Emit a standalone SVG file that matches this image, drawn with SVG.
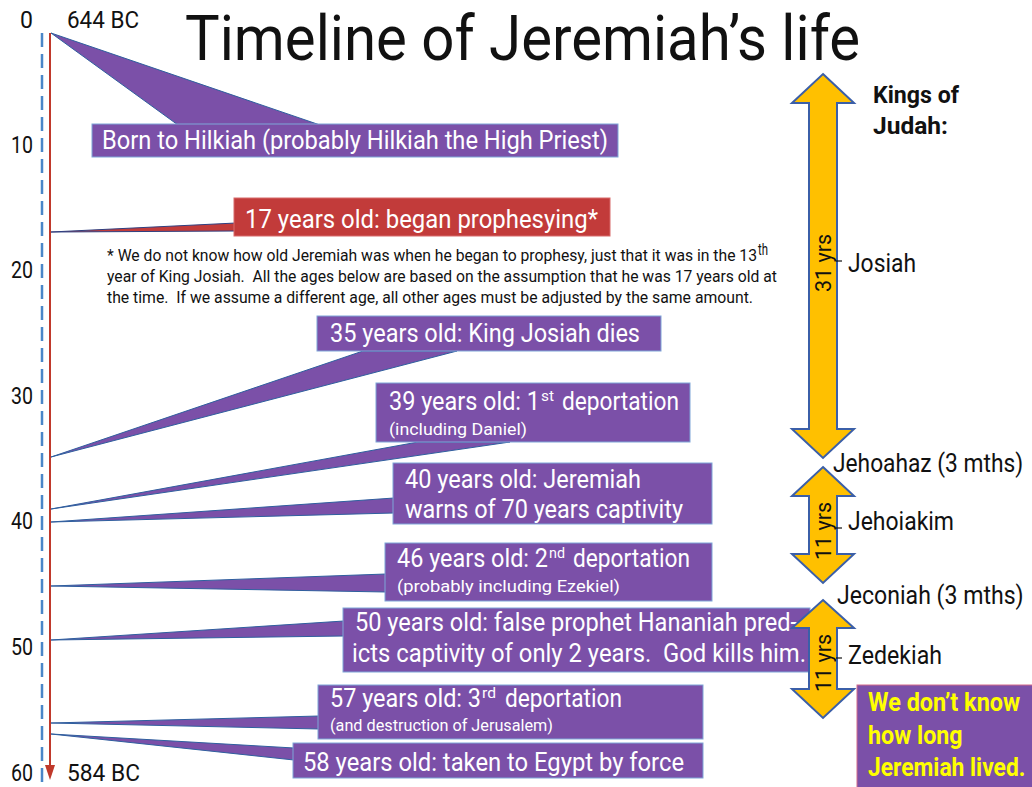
<svg xmlns="http://www.w3.org/2000/svg" width="1032" height="787" viewBox="0 0 1032 787">
<style>
text{font-family:Roboto,"Liberation Sans",sans-serif;white-space:pre}
.ax{font-size:23px;fill:#111}
.axr{text-anchor:end}
.box{fill:#7B50A8;stroke:#7FA6D8;stroke-width:1}
.red{fill:#C23B3A;stroke:#D86A6A;stroke-width:1}
.wedge{fill:#7B50A8;stroke:#2F5F9E;stroke-width:1}
.wedgeR{fill:#C23B3A;stroke:#2F3F80;stroke-width:1}
.t{font-size:25px;fill:#fff}
.s{font-size:16px;fill:#fff}
.sup{font-size:14px;fill:#fff}
.note{font-size:16px;fill:#111}
.arr{fill:#FFC000;stroke:#3B5FA8;stroke-width:2;stroke-linejoin:miter}
.k{font-size:25px;fill:#111}
.yr{font-size:22px;fill:#111;text-anchor:middle}
.tick{stroke:#111;stroke-width:1.2}
.kb{font-size:24px;font-weight:bold;fill:#111}
.yl{font-size:26px;font-weight:bold;fill:#FFFF00}
</style>
<rect width="1032" height="787" fill="#fff"/>

<g id="title">
<text x="185" y="60" font-size="63" fill="#111" textLength="675" lengthAdjust="spacingAndGlyphs">Timeline of Jeremiah’s life</text>
</g>

<g id="axis">
<line x1="42" y1="33" x2="42" y2="787" stroke="#4A86C8" stroke-width="2.5" stroke-dasharray="14 7"/>
<line x1="50" y1="33" x2="50" y2="768" stroke="#C0392B" stroke-width="2"/>
<polygon points="45,765 55,765 50,780" fill="#C0392B"/>
<text class="ax axr" x="33" y="28">0</text>
<text class="ax axr" x="33" y="153" textLength="22" lengthAdjust="spacingAndGlyphs">10</text>
<text class="ax axr" x="33" y="278" textLength="22" lengthAdjust="spacingAndGlyphs">20</text>
<text class="ax axr" x="33" y="404" textLength="22" lengthAdjust="spacingAndGlyphs">30</text>
<text class="ax axr" x="33" y="529" textLength="22" lengthAdjust="spacingAndGlyphs">40</text>
<text class="ax axr" x="33" y="655" textLength="22" lengthAdjust="spacingAndGlyphs">50</text>
<text class="ax axr" x="33" y="781" textLength="22" lengthAdjust="spacingAndGlyphs">60</text>
<text class="ax" x="67" y="28" textLength="72" lengthAdjust="spacingAndGlyphs">644 BC</text>
<text class="ax" x="67" y="781" textLength="73" lengthAdjust="spacingAndGlyphs">584 BC</text>
</g>

<g id="connectors">
<polygon class="wedge" points="51,33 178,125 320,125"/>
<polygon class="wedgeR" points="51,232 236,223 236,231"/>
<polygon class="wedge" points="51,457 363,351 457,351"/>
<polygon class="wedge" points="51,509 418,442 510,442"/>
<polygon class="wedge" points="51,522 394,498 394,513"/>
<polygon class="wedge" points="51,586 386,574 386,592"/>
<polygon class="wedge" points="51,640 344,621 344,636"/>
<polygon class="wedge" points="51,723 319,716 319,729"/>
<polygon class="wedge" points="51,734 294,748 294,760"/>
</g>

<g id="n-born">
<rect class="box" x="92" y="124" width="526" height="33"/>
<text class="t" x="102" y="149" textLength="506" lengthAdjust="spacingAndGlyphs">Born to Hilkiah (probably Hilkiah the High Priest)</text>
</g>

<g id="n-17">
<rect class="red" x="234" y="198" width="376" height="38"/>
<text class="t" x="245" y="228" font-size="26" textLength="353" lengthAdjust="spacingAndGlyphs">17 years old: began prophesying*</text>
</g>

<g id="n-note">
<text class="note" transform="translate(107,261) scale(0.8,1)" textLength="812.5" lengthAdjust="spacingAndGlyphs">* We do not know how old Jeremiah was when he began to prophesy, just that it was in the 13</text>
<text class="note" x="758" y="255" font-size="10" textLength="10" lengthAdjust="spacingAndGlyphs">th</text>
<text class="note" x="107" y="282" textLength="670" lengthAdjust="spacingAndGlyphs">year of King Josiah.  All the ages below are based on the assumption that he was 17 years old at</text>
<text class="note" x="107" y="303" textLength="646" lengthAdjust="spacingAndGlyphs">the time.  If we assume a different age, all other ages must be adjusted by the same amount.</text>
</g>

<g id="n-35">
<rect class="box" x="317" y="316" width="344" height="35"/>
<text class="t" x="330" y="342" textLength="310" lengthAdjust="spacingAndGlyphs">35 years old: King Josiah dies</text>
</g>

<g id="n-39">
<rect class="box" x="376" y="383" width="314" height="59"/>
<text class="t" transform="translate(389,410) scale(0.8,1)" textLength="188.75" lengthAdjust="spacingAndGlyphs">39 years old: 1</text>
<text class="sup" x="541" y="401" textLength="13" lengthAdjust="spacingAndGlyphs">st</text>
<text class="t" x="562" y="410" textLength="117" lengthAdjust="spacingAndGlyphs">deportation</text>
<text class="s" x="389" y="435" textLength="138" lengthAdjust="spacingAndGlyphs">(including Daniel)</text>
</g>

<g id="n-40">
<rect class="box" x="393" y="463" width="319" height="61"/>
<text class="t" x="405" y="488" textLength="236" lengthAdjust="spacingAndGlyphs">40 years old: Jeremiah</text>
<text class="t" x="405" y="518" textLength="278" lengthAdjust="spacingAndGlyphs">warns of 70 years captivity</text>
</g>

<g id="n-46">
<rect class="box" x="385" y="543" width="327" height="58"/>
<text class="t" transform="translate(397,567) scale(0.8,1)" textLength="188.75" lengthAdjust="spacingAndGlyphs">46 years old: 2</text>
<text class="sup" x="549" y="558" textLength="16" lengthAdjust="spacingAndGlyphs">nd</text>
<text class="t" x="573" y="567" textLength="117" lengthAdjust="spacingAndGlyphs">deportation</text>
<text class="s" x="397" y="592" textLength="223" lengthAdjust="spacingAndGlyphs">(probably including Ezekiel)</text>
</g>

<g id="n-50">
<rect class="box" x="343" y="608" width="467" height="64"/>
<text class="t" x="355" y="631" textLength="442" lengthAdjust="spacingAndGlyphs">50 years old: false prophet Hananiah pred-</text>
<text class="t" x="352" y="662" textLength="454" lengthAdjust="spacingAndGlyphs">icts captivity of only 2 years.  God kills him.</text>
</g>

<g id="n-57">
<rect class="box" x="318" y="685" width="385" height="54"/>
<text class="t" transform="translate(330,707) scale(0.8,1)" textLength="188.75" lengthAdjust="spacingAndGlyphs">57 years old: 3</text>
<text class="sup" x="482" y="698" textLength="14" lengthAdjust="spacingAndGlyphs">rd</text>
<text class="t" x="505" y="707" textLength="117" lengthAdjust="spacingAndGlyphs">deportation</text>
<text class="s" x="330" y="731" textLength="223" lengthAdjust="spacingAndGlyphs">(and destruction of Jerusalem)</text>
</g>

<g id="n-58">
<rect class="box" x="293" y="743" width="410" height="35"/>
<text class="t" x="303" y="771" textLength="381" lengthAdjust="spacingAndGlyphs">58 years old: taken to Egypt by force</text>
</g>

<g id="kings-heading">
<text class="kb" x="873" y="103" textLength="86" lengthAdjust="spacingAndGlyphs">Kings of</text>
<text class="kb" x="873" y="134" textLength="75" lengthAdjust="spacingAndGlyphs">Judah:</text>
</g>

<g id="k-josiah">
<path class="arr" d="M823,74 L854,103 L837,103 L837,429 L854,429 L823,458 L792,429 L809,429 L809,103 L792,103 Z"/>
<text class="yr" transform="translate(831,263) rotate(-90)" textLength="58" lengthAdjust="spacingAndGlyphs">31 yrs</text>
<line class="tick" x1="836" y1="261" x2="842" y2="261"/>
<text class="k" x="848" y="272" textLength="68" lengthAdjust="spacingAndGlyphs">Josiah</text>
</g>

<g id="k-jehoahaz">
<text class="k" transform="translate(833,472) scale(0.86,1)" textLength="221" lengthAdjust="spacingAndGlyphs">Jehoahaz (3 mths)</text>
</g>

<g id="k-jehoiakim">
<path class="arr" d="M823,467 L854,496 L837,496 L837,554 L854,554 L823,583 L792,554 L809,554 L809,496 L792,496 Z"/>
<text class="yr" transform="translate(831,531) rotate(-90)" textLength="58" lengthAdjust="spacingAndGlyphs">11 yrs</text>
<line class="tick" x1="836" y1="528" x2="842" y2="528"/>
<text class="k" x="848" y="530" textLength="106" lengthAdjust="spacingAndGlyphs">Jehoiakim</text>
</g>

<g id="k-jeconiah">
<text class="k" transform="translate(837,604) scale(0.86,1)" textLength="217" lengthAdjust="spacingAndGlyphs">Jeconiah (3 mths)</text>
</g>

<g id="k-zedekiah">
<path class="arr" d="M823,600 L854,628 L837,628 L837,689 L854,689 L823,718 L792,689 L809,689 L809,628 L792,628 Z"/>
<text class="yr" transform="translate(831,663) rotate(-90)" textLength="58" lengthAdjust="spacingAndGlyphs">11 yrs</text>
<line class="tick" x1="836" y1="658" x2="842" y2="658"/>
<text class="k" x="848" y="664" textLength="94" lengthAdjust="spacingAndGlyphs">Zedekiah</text>
</g>

<g id="n-unknown">
<rect x="857" y="685" width="176" height="103" fill="#7B50A8" stroke="#D36A8A" stroke-width="1"/>
<text class="yl" transform="translate(868,711) scale(0.86,1)" textLength="177" lengthAdjust="spacingAndGlyphs">We don’t know</text>
<text class="yl" transform="translate(868,744) scale(0.86,1)" textLength="110" lengthAdjust="spacingAndGlyphs">how long</text>
<text class="yl" transform="translate(868,776) scale(0.86,1)" textLength="183" lengthAdjust="spacingAndGlyphs">Jeremiah lived.</text>
</g>
</svg>
